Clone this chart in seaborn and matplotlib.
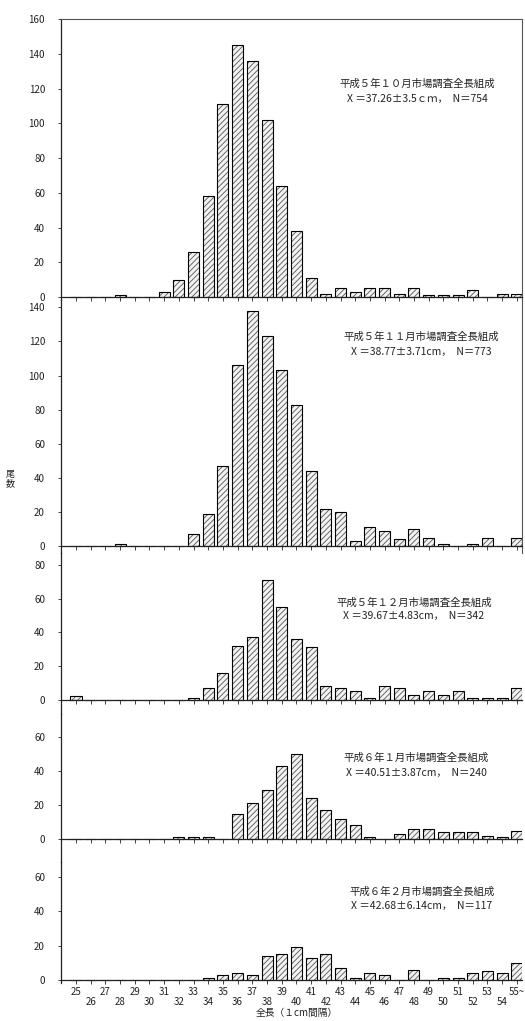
import matplotlib
matplotlib.use("Agg")
import matplotlib.pyplot as plt
import numpy as np
import pandas as pd
import seaborn as sns

sns.set_style("white")
plt.rcParams['font.family'] = ['Noto Sans CJK JP', 'DejaVu Sans']
plt.rcParams['hatch.linewidth'] = 0.6

# ---- data ----
lengths = list(range(25, 56))
tick_labels = [str(v) for v in range(25, 55)] + ['55~']

oct93 = [0, 0, 0, 1, 0, 0, 3, 10, 26, 58, 111, 145, 136, 102, 64, 38, 11, 2, 5, 3,
         5, 5, 2, 5, 1, 1, 1, 4, 0, 2, 2]
nov93 = [0, 0, 0, 1, 0, 0, 0, 0, 7, 19, 47, 106, 138, 123, 103, 83, 44, 22, 20, 3,
         11, 9, 4, 10, 5, 1, 0, 1, 5, 0, 5]
dec93 = [2, 0, 0, 0, 0, 0, 0, 0, 1, 7, 16, 32, 37, 71, 55, 36, 31, 8, 7, 5,
         1, 8, 7, 3, 5, 3, 5, 1, 1, 1, 7]
jan94 = [0, 0, 0, 0, 0, 0, 0, 1, 1, 1, 0, 15, 21, 29, 43, 50, 24, 17, 12, 8,
         1, 0, 3, 6, 6, 4, 4, 4, 2, 1, 5]
feb94 = [0, 0, 0, 0, 0, 0, 0, 0, 0, 1, 3, 4, 3, 14, 15, 19, 13, 15, 7, 1,
         4, 3, 0, 6, 0, 1, 1, 4, 5, 4, 10]

titles = ["平成５年１０月市場調査全長組成",
          "平成５年１１月市場調査全長組成",
          "平成５年１２月市場調査全長組成",
          "平成６年１月市場調査全長組成",
          "平成６年２月市場調査全長組成"]
stats = ["X ＝37.26±3.5ｃｍ，  N＝754",
         "X ＝38.77±3.71cm，  N＝773",
         "X ＝39.67±4.83cm，  N＝342",
         "X ＝40.51±3.87cm，  N＝240",
         "X ＝42.68±6.14cm，  N＝117"]
series = [oct93, nov93, dec93, jan94, feb94]
yticks = [range(0, 161, 20), range(0, 141, 20), range(0, 81, 20),
          range(0, 61, 20), range(0, 61, 20)]

# ---- layout (pixels) ----
W, H = 525, 1021
fig = plt.figure(figsize=(W / 100, H / 100), dpi=100)
left_px, right_px = 61, 522
panels = [(19, 300.5, -2, 160), (300.5, 553, -4, 144), (553, 714, -8.5, 87),
          (714, 862, -13.5, 73.5), (862, 982.6, -1.5, 68.7)]
text_pos = [(417, 84, 99), (421, 337, 352), (414, 603, 616), (416, 758, 773),
            (422, 892, 906)]

for i, (vals, (top, bot, y0, y1)) in enumerate(zip(series, panels)):
    ax = fig.add_axes([left_px / W, 1 - bot / H, (right_px - left_px) / W, (bot - top) / H])
    df = pd.DataFrame({'length': tick_labels, 'count': vals})
    sns.barplot(data=df, x='length', y='count', order=tick_labels, color='#f2f2f2',
                saturation=1, edgecolor='#555555', linewidth=0, width=0.75, ax=ax)
    for p in ax.patches:
        p.set_hatch('//////')
    sns.barplot(data=df, x='length', y='count', order=tick_labels, fill=False,
                edgecolor='black', linewidth=0.8, width=0.75, ax=ax)
    ax.set_xlim(-1.02, 30.35)
    ax.set_ylim(y0, y1)
    ax.set_xlabel('')
    ax.set_ylabel('')
    ax.set_yticks(list(yticks[i]))
    ax.tick_params(axis='y', direction='out', length=2.5, width=0.6, pad=9,
                   labelsize=7, colors='#222222', left=True)
    ax.tick_params(axis='x', direction='out', length=3, width=0.6, bottom=True)
    ax.spines['bottom'].set_position(('data', 0))
    for s in ['left', 'bottom']:
        ax.spines[s].set_linewidth(0.9)
        ax.spines[s].set_color('#222222')
    ax.spines['top'].set_visible(i == 0)
    ax.spines['right'].set_visible(i <= 1)
    ax.spines['top'].set_linewidth(0.8)
    ax.spines['top'].set_color('#555555')
    ax.spines['right'].set_linewidth(0.8)
    ax.spines['right'].set_color('#555555')
    ax.patch.set_alpha(0)
    if i < 4:
        ax.set_xticklabels([])
    else:
        labs = [t if k % 2 == 0 else '\n' + t for k, t in enumerate(tick_labels)]
        ax.set_xticks(range(len(tick_labels)))
        ax.set_xticklabels(labs, fontsize=7, color='#222222', linespacing=1.05)
        ax.tick_params(axis='x', pad=2)
    tx, ty1, ty2 = text_pos[i]
    fig.text(tx / W, 1 - ty1 / H, titles[i], ha='center', va='center', fontsize=7.5,
             color='#222222')
    fig.text(tx / W, 1 - ty2 / H, stats[i], ha='center', va='center', fontsize=7.5,
             color='#222222')

fig.text(10 / W, 1 - 474 / H, "尾", ha='center', va='center', fontsize=6.5,
         color='#222222')
fig.text(10 / W, 1 - 484 / H, "数", ha='center', va='center', fontsize=6.5,
         color='#222222')
fig.text(297 / W, 1 - 1013 / H, "全長（１cm間隔）", ha='center', va='center',
         fontsize=7, color='#222222')

fig.savefig("out.png", dpi=100)
